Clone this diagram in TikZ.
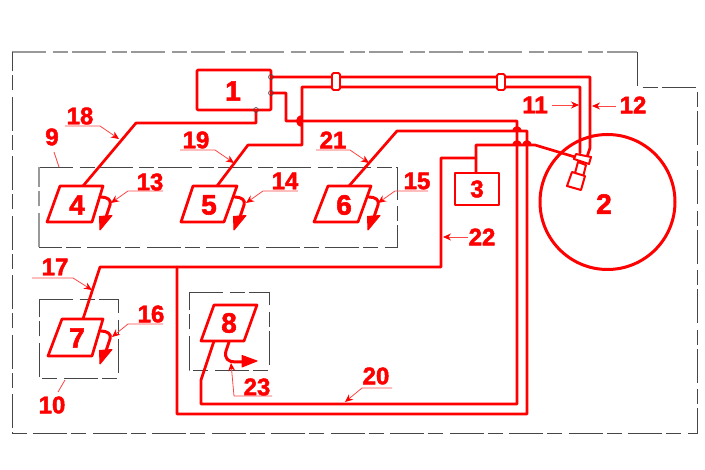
\documentclass[tikz,border=0pt]{standalone}
\usepackage{fontspec}
\setmainfont[BoldFeatures={FakeBold=2}]{Liberation Sans}
\usetikzlibrary{arrows.meta}
\definecolor{pipe}{RGB}{255,0,0}
\definecolor{lead}{RGB}{255,70,70}
\definecolor{frameline}{RGB}{70,70,70}
\tikzset{
  x=1pt,y=-1pt,
  pipeline/.style={draw=pipe,line width=2.7pt,line join=round,line cap=round},
  leader/.style={draw=lead,line width=.8pt},
  leadarrow/.style={leader,-{Stealth[length=8pt,width=7pt,color=pipe]}},
  unit/.style={pipeline,fill=white},
  spray/.style={fill=pipe,draw=pipe,line width=1pt,line join=round},
  hop/.style={fill=pipe},
  zone/.style={draw=frameline,line width=.9pt,dash pattern=on 34pt off 6.5pt on 15pt off 4pt},
  zonesoft/.style={zone,draw=gray!80,line width=1.3pt},
  bignum/.style={text=pipe,inner sep=0pt,font=\fontsize{28}{28}\selectfont\bfseries},
  tag/.style={text=pipe,inner sep=0pt,font=\fontsize{24}{24}\selectfont\bfseries},
  port/.style={draw=frameline,fill=none,line width=.6pt},
}
% one nozzle in a parallelogram-shaped zone: hook plus large arrowhead
\newcommand{\nozzlespray}[2]{%
  \begin{scope}[shift={(#1,#2)}]
    \draw[pipeline,line width=3pt] (0,0) .. controls (6,0) and (11,3) .. (9,8) -- (5,20);
    \fill[spray] (-1,33) -- (-1.5,19.5) -- (11,18.5) -- cycle;
  \end{scope}}
\begin{document}
\begin{tikzpicture}
\useasboundingbox (0,0) rectangle (705,470);

% waypoints of the piping
\coordinate (a1) at (271,77);
\coordinate (a2) at (590,77);
\coordinate (a3) at (590,148);
\coordinate (a4) at (587,157);
\coordinate (b1) at (271,93);
\coordinate (b2) at (286,93);
\coordinate (b3) at (286,121);
\coordinate (b4) at (517,121);
\coordinate (b5) at (517,404);
\coordinate (b6) at (201,404);
\coordinate (b7) at (201,380);
\coordinate (b8) at (214,341);
\coordinate (c1) at (580,153);
\coordinate (c2) at (580,87);
\coordinate (c3) at (302,87);
\coordinate (c4) at (302,145);
\coordinate (c5) at (248,145);
\coordinate (c6) at (217,186);
\coordinate (d1) at (256,110);
\coordinate (d2) at (256,123);
\coordinate (d3) at (136,123);
\coordinate (d4) at (83,186);
\coordinate (e1) at (349,186);
\coordinate (e2) at (397,131);
\coordinate (e3) at (527,131);
\coordinate (e4) at (527,414);
\coordinate (e5) at (177,414);
\coordinate (e6) at (177,267);
\coordinate (f1) at (83,319);
\coordinate (f2) at (100,267);
\coordinate (f3) at (441,267);
\coordinate (f4) at (441,158);
\coordinate (f5) at (476,158);
\coordinate (g1) at (476,173);
\coordinate (g2) at (476,145);
\coordinate (g3) at (535,145);
\coordinate (g4) at (575,157);

% dashed boundaries
\draw[zonesoft] (12,52) -- (637,52);
\draw[zone] (637,52) -- (637,87) -- (697,87) -- (697,433) -- (12,433) -- (12,52);
\draw[zone] (39,167) -- (397,167) -- (397,247) -- (39,247);
\draw[zonesoft] (39,247) -- (39,167);
\draw[zone] (39,299) -- (118,299) -- (118,378) -- (39,378) -- cycle;
\draw[zone] (189,292) -- (269,292) -- (269,370) -- (189,370) -- cycle;

% pipes
\draw[pipeline] (a1) -- (a2) -- (a3) -- (a4);
\draw[pipeline] (b1) -- (b2) -- (b3) -- (b4) -- (b5) -- (b6) -- (b7) -- (b8);
\draw[pipeline] (c1) -- (c2) -- (c3) -- (c4) -- (c5) -- (c6);
\draw[pipeline] (d1) -- (d2) -- (d3) -- (d4);
\draw[pipeline] (e1) -- (e2) -- (e3) -- (e4) -- (e5) -- (e6);
\draw[pipeline] (f1) -- (f2) -- (f3) -- (f4) -- (f5);
\draw[pipeline] (g1) -- (g2) -- (g3) -- (g4);

% crossings: a small solid bump where one pipe passes over another
\fill[hop] (302,127) .. controls (294,126) and (294,116) .. (302,115) -- cycle;
\fill[hop] (512,132) .. controls (513,124) and (521,124) .. (522,132) -- cycle;
\fill[hop] (512,146) .. controls (513,138) and (521,138) .. (522,146) -- cycle;
\fill[hop] (522,146) .. controls (523,138) and (531,138) .. (532,146) -- cycle;

% couplings on the two long pipes
\draw[unit,line width=1.8pt,rounded corners=1.5pt] (332,73) rectangle (340,90);
\draw[unit,line width=1.8pt,rounded corners=1.5pt] (497,74) rectangle (505,90);

% control unit and its ports
\node[unit,minimum width=74pt,minimum height=40pt,inner sep=0pt,rounded corners=1pt] (u1) at (234,90) {};
\node[bignum] (n1) at (233,91) {1};
\draw[port] (a1) circle (2.5);
\draw[port] (b1) circle (2.5);
\draw[port] (d1) circle (2.5);

% tank and pump
\node[pipeline,line width=3pt,circle,minimum size=135pt,inner sep=0pt] (u2) at (607.5,202) {};
\node[bignum] (n2) at (604,204) {2};
\draw[unit,line width=2pt] (576,154) -- (591,157) -- (589,164) -- (574,159) -- cycle;
\draw[unit,line width=2pt] (578,162) -- (586,165) -- (583,177) -- (575,173) -- cycle;
\draw[unit,line width=2pt] (572,172) -- (585,176) -- (581,190) -- (567,186) -- cycle;

\node[unit,minimum width=44pt,minimum height=32pt,inner sep=0pt] (u3) at (477,189) {};
\node[tag] (n3) at (477,189) {3};

% parallelogram units
\draw[unit] (60,186) -- (103,186) -- (92,222) -- (47,222) -- cycle;
\draw[unit] (193,186) -- (237,186) -- (224,222) -- (181,222) -- cycle;
\draw[unit] (328,186) -- (371,186) -- (358,222) -- (314,222) -- cycle;
\draw[unit] (62,319) -- (103,319) -- (92,356) -- (48,356) -- cycle;
\draw[unit] (214,305) -- (257,305) -- (244,341) -- (201,341) -- cycle;
\node[bignum] (n4) at (77,205) {4};
\node[bignum] (n5) at (209,205) {5};
\node[bignum] (n6) at (344,205) {6};
\node[bignum] (n7) at (77,338) {7};
\node[bignum] (n8) at (229,323) {8};

% spray outlets
\nozzlespray{101}{197}
\nozzlespray{235}{197}
\nozzlespray{369}{197}
\nozzlespray{101}{331}
\draw[pipeline,line width=3pt] (229,342) -- (226,351) .. controls (224,358) and (228,362) .. (235,362) -- (243,362);
\fill[spray] (257,361) -- (242,355.5) -- (242,367) -- cycle;

% callouts
\coordinate (l18a) at (65,126);  \coordinate (l18b) at (100,126); \coordinate (l18c) at (119,139);
\coordinate (l19a) at (180,150); \coordinate (l19b) at (215,150); \coordinate (l19c) at (234,163);
\coordinate (l21a) at (316,150); \coordinate (l21b) at (350,150); \coordinate (l21c) at (369,163);
\coordinate (l13a) at (163,191); \coordinate (l13b) at (128,191); \coordinate (l13c) at (111,203);
\coordinate (l14a) at (298,191); \coordinate (l14b) at (263,191); \coordinate (l14c) at (246,203);
\coordinate (l15a) at (428,191); \coordinate (l15b) at (395,191); \coordinate (l15c) at (378,203);
\coordinate (l16a) at (163,324); \coordinate (l16b) at (128,324); \coordinate (l16c) at (112,337);
\coordinate (l17a) at (32,278);  \coordinate (l17b) at (73,278);  \coordinate (l17c) at (92,290);
\coordinate (l20a) at (392,388); \coordinate (l20b) at (362,388); \coordinate (l20c) at (345,402);
\coordinate (l23a) at (272,396); \coordinate (l23b) at (234,396); \coordinate (l23c) at (231,363);
\foreach \k in {18,19,21,13,14,15,16,17,20,23}
  \draw[leadarrow] (l\k a) -- (l\k b) -- (l\k c);
\coordinate (l9a) at (54,152);  \coordinate (l9b) at (59,167);
\coordinate (l10a) at (58,392); \coordinate (l10b) at (65,380);
\draw[leader] (l9a) -- (l9b);
\draw[leader] (l10a) -- (l10b);
\coordinate (l11a) at (552,105); \coordinate (l11b) at (579,105);
\coordinate (l12a) at (616,106); \coordinate (l12b) at (592,106);
\coordinate (l22a) at (468,237); \coordinate (l22b) at (443,237);
\draw[leadarrow] (l11a) -- (l11b);
\draw[leadarrow] (l12a) -- (l12b);
\draw[leadarrow] (l22a) -- (l22b);

\node[tag] (t9) at (52,137) {9};
\node[tag] (t10) at (52,405) {10};
\node[tag] (t11) at (535,105) {11};
\node[tag] (t12) at (633,105) {12};
\node[tag] (t13) at (150,182) {13};
\node[tag] (t14) at (285,181) {14};
\node[tag] (t15) at (417,181) {15};
\node[tag] (t16) at (151,314) {16};
\node[tag] (t17) at (55,267) {17};
\node[tag] (t18) at (80,116) {18};
\node[tag] (t19) at (196,140) {19};
\node[tag] (t20) at (376,376) {20};
\node[tag] (t21) at (333,140) {21};
\node[tag] (t22) at (482,237) {22};
\node[tag] (t23) at (257,387) {23};
\end{tikzpicture}
\end{document}
